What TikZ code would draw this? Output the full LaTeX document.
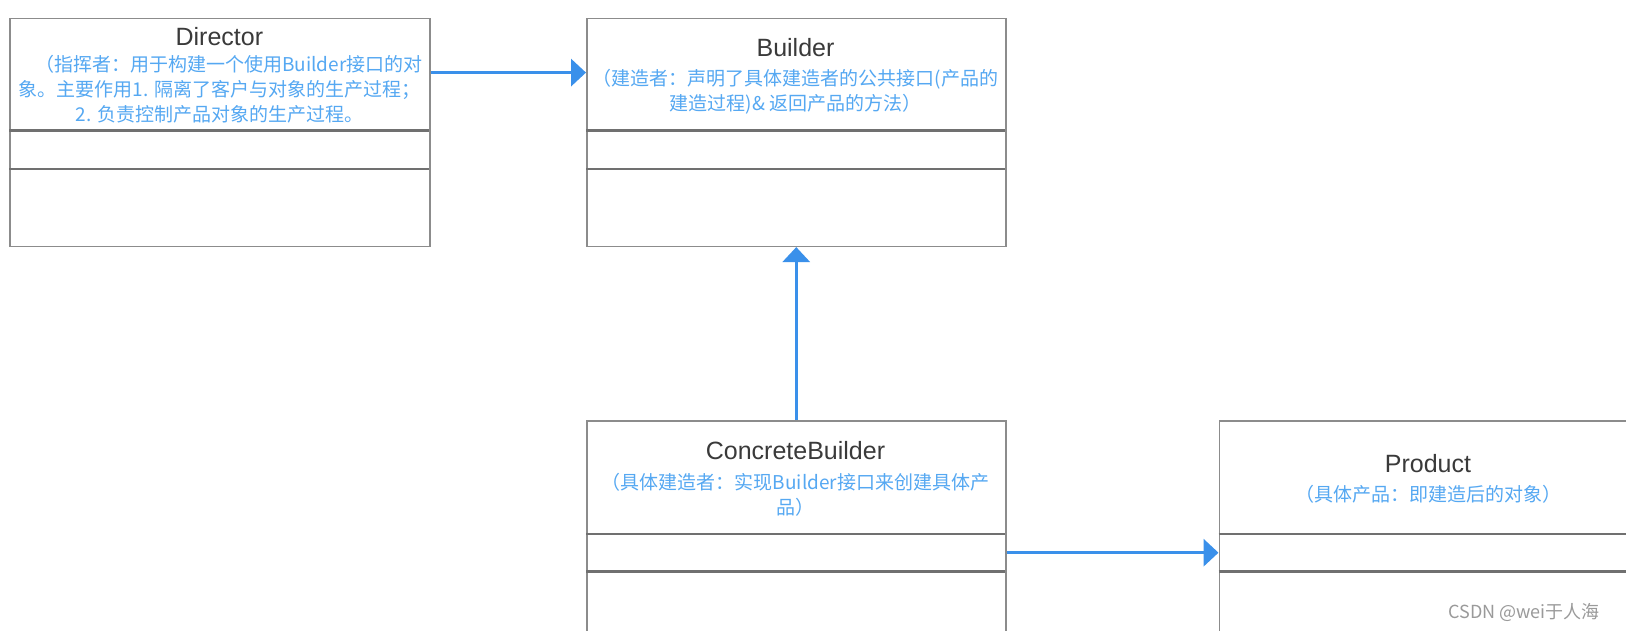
\documentclass[tikz,border=0pt]{standalone}
\usepackage{fontspec}
\setmainfont{Liberation Sans}
\newfontfamily\cjk{Noto Sans CJK SC}
\usetikzlibrary{arrows.meta}
\definecolor{boxgray}{HTML}{8C8C8C}
\definecolor{divgray}{HTML}{707070}
\definecolor{txtblue}{HTML}{55A8F2}
\definecolor{arrblue}{HTML}{3A90EA}
\definecolor{titlegray}{HTML}{3A3A3A}
\definecolor{wmgray}{HTML}{9A9A9A}
\tikzset{
 umlbox/.style={draw=boxgray, line width=1.5pt, fill=white, anchor=north west, inner sep=0pt},
 divider/.style={draw=divgray, line width=2.5pt},
 umltitle/.style={font=\fontsize{25}{30}\selectfont, text=titlegray, inner sep=0pt},
 desc/.style={font=\cjk\fontsize{19}{25}\selectfont, text=txtblue, align=center, inner sep=0pt},
 conn/.style={draw=arrblue, line width=3.5pt, -{Triangle[length=15pt,width=27pt]}},
}
\begin{document}
\begin{tikzpicture}[x=1pt,y=-1pt]
\useasboundingbox (0,0) rectangle (1626,631);
\clip (0,0) rectangle (1626,631);
\fill[white] (0,0) rectangle (1626,631);
% boxes
\node[umlbox, minimum width=420pt, minimum height=228pt] (dir) at (9.3,17.6) {};
\node[umlbox, minimum width=419pt, minimum height=228pt] (bld) at (586,17.6) {};
\node[umlbox, minimum width=419pt, minimum height=260pt] (cb) at (586,420) {};
\node[umlbox, minimum width=419pt, minimum height=260pt] (prod) at (1218.5,420) {};
% dividers
\draw[divider] (9.3,130.7) -- (429.3,130.7);
\draw[divider] (9.3,169) -- (429.3,169);
\draw[divider] (586,130.7) -- (1005,130.7);
\draw[divider] (586,169) -- (1005,169);
\draw[divider] (586,534) -- (1005,534);
\draw[divider] (586,571.4) -- (1005,571.4);
\draw[divider] (1218.5,534) -- (1637.5,534);
\draw[divider] (1218.5,571.4) -- (1637.5,571.4);
% texts
\node[umltitle] (dirT) at (219.4,36.3) {Director};
\node[desc] (dirD) at (219.4,89.2) {\hspace*{1em}（指挥者：用于构建一个使用Builder接口的对\\象。主要作用1. 隔离了客户与对象的生产过程；\\2. 负责控制产品对象的生产过程。};
\node[umltitle] (bldT) at (795.5,47.7) {Builder};
\node[desc] (bldD) at (795.5,91.7) {（建造者：声明了具体建造者的公共接口(产品的\\建造过程)\& 返回产品的方法）};
\node[umltitle] (cbT) at (795.5,451) {ConcreteBuilder};
\node[desc] (cbD) at (795.5,495) {（具体建造者：实现Builder接口来创建具体产\\品）};
\node[umltitle] (prodT) at (1428,463.5) {Product};
\node[desc] (prodD) at (1428,494.6) {（具体产品：即建造后的对象）};
\node[font=\cjk\fontsize{18}{22}\selectfont, text=wmgray, inner sep=0pt] (wm) at (1524,612) {CSDN @wei于人海};
% connectors
\coordinate (a1) at (0,72.6);
\coordinate (a3) at (0,552.7);
\draw[conn] (dir.east |- a1) -- (bld.west |- a1);
\draw[conn] (cb.north) -- (bld.south);
\draw[conn] (cb.east |- a3) -- (prod.west |- a3);
\end{tikzpicture}
\end{document}
